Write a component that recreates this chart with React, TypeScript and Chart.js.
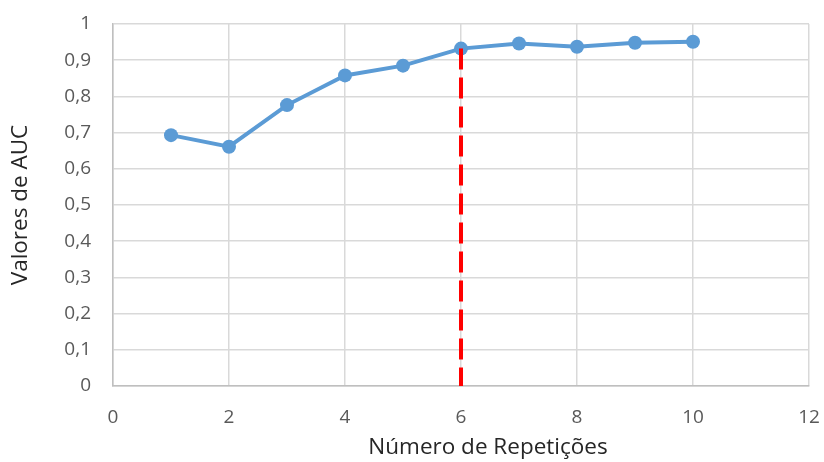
import React, { useEffect, useRef } from "react";
import { Chart, registerables } from "chart.js";

Chart.register(...registerables);

// Repetições (x) e valores de AUC (y)
const repetitions = [1, 2, 3, 4, 5, 6, 7, 8, 9, 10];
const aucValues = [0.693, 0.661, 0.776, 0.858, 0.885, 0.932, 0.946, 0.937, 0.948, 0.951];

// Linha de corte vertical
const cutoffX = 6;
const cutoffTop = 0.932;

const xTitle = "Número de Repetições";
const yTitle = "Valores de AUC";

const FONT = "'Open Sans', 'Liberation Sans', sans-serif";

const fmt = (v: number) => (Math.round(v * 10) / 10).toString().replace(".", ",");

// Desenha o título do eixo X
const xTitlePlugin = {
  id: "xTitlePlugin",
  afterDraw(chart: any) {
    const { ctx, chartArea } = chart;
    ctx.save();
    ctx.font = `22.5px ${FONT}`;
    ctx.fillStyle = "#262626";
    ctx.textAlign = "center";
    ctx.textBaseline = "middle";
    const cx = (chartArea.left + chartArea.right) / 2 + 27;
    ctx.fillText(xTitle, cx, chartArea.bottom + 62);
    ctx.restore();
  },
};

export default function App() {
  const canvasRef = useRef<HTMLCanvasElement>(null);

  useEffect(() => {
    const canvas = canvasRef.current;
    if (!canvas) return;
    const chart = new Chart(canvas, {
      type: "line",
      data: {
        datasets: [
          {
            data: [
              { x: cutoffX, y: cutoffTop },
              { x: cutoffX, y: 0 },
            ],
            borderColor: "#ff0000",
            borderWidth: 4,
            borderDash: [21, 8],
            pointRadius: 0,
            order: 0,
          },
          {
            data: repetitions.map((x, i) => ({ x, y: aucValues[i] })),
            borderColor: "#5b9bd5",
            backgroundColor: "#5b9bd5",
            borderWidth: 4,
            pointRadius: 7,
            pointBorderWidth: 0,
            order: 1,
          },
        ],
      },
      options: {
        animation: false,
        responsive: false,
        maintainAspectRatio: false,
        layout: { padding: { left: 0, right: 15, top: 24, bottom: 0 } },
        plugins: {
          legend: { display: false },
          tooltip: { enabled: false },
        },
        scales: {
          x: {
            type: "linear",
            min: 0,
            max: 12,
            ticks: {
              stepSize: 2,
              padding: 20,
              color: "#595959",
              font: { family: FONT, size: 19 },
            },
            grid: { color: "#d9d9d9", lineWidth: 1.5, drawTicks: false },
            border: { color: "#bfbfbf", width: 1.5 },
            afterFit: (s: any) => {
              s.height = 76;
              s.paddingLeft = 0;
              s.paddingRight = 0;
            },
          },
          y: {
            min: 0,
            max: 1,
            ticks: {
              stepSize: 0.1,
              padding: 22,
              color: "#595959",
              font: { family: FONT, size: 19 },
              callback: (v: any) => fmt(Number(v)),
            },
            grid: { color: "#d9d9d9", lineWidth: 1.5, drawTicks: false },
            border: { color: "#bfbfbf", width: 1.5 },
            title: {
              display: true,
              text: yTitle,
              color: "#262626",
              font: { family: FONT, size: 22.5 },
              padding: { top: 7, bottom: 0 },
            },
            afterFit: (s: any) => {
              s.width = 113;
              s.paddingTop = 0;
              s.paddingBottom = 0;
            },
          },
        },
      },
      plugins: [xTitlePlugin],
    });
    return () => chart.destroy();
  }, []);

  return (
    <div style={{ position: "fixed", left: 0, top: 0, width: 824, height: 462, background: "#fff" }}>
      <canvas ref={canvasRef} width={824} height={462} style={{ width: 824, height: 462 }} />
    </div>
  );
}
